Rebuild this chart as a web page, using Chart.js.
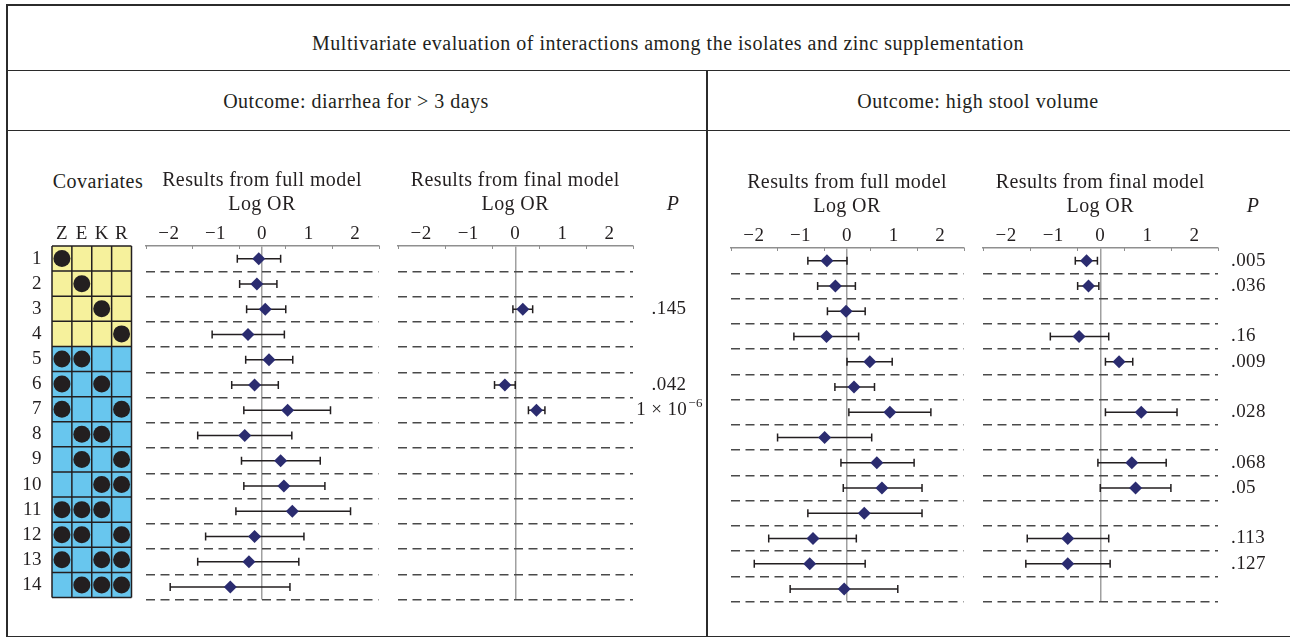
<!DOCTYPE html>
<html>
<head>
<meta charset="utf-8">
<script src="https://cdn.jsdelivr.net/npm/chart.js@4.4.1/dist/chart.umd.min.js"></script>
<style>
  html, body { margin: 0; padding: 0; background: #fff; }
  body { width: 1290px; height: 638px; position: relative; overflow: hidden;
         font-family: "Liberation Serif", serif; color: #231f20; }
  .rule { position: absolute; background: #2b2b2b; }
  .label { position: absolute; transform: translate(-50%, -50%); white-space: nowrap;
           font-size: 20px; letter-spacing: 0.5px; }
  canvas { position: absolute; }
</style>
</head>
<body>
<!-- table frame -->
<div class="rule" style="left:6px;top:4px;width:1284px;height:1.5px"></div>
<div class="rule" style="left:6px;top:4px;width:1.5px;height:633px"></div>
<div class="rule" style="left:6px;top:69.5px;width:1284px;height:1.5px"></div>
<div class="rule" style="left:6px;top:129.5px;width:1284px;height:1.5px"></div>
<div class="rule" style="left:6px;top:635.5px;width:1284px;height:1.5px"></div>
<div class="rule" style="left:706px;top:70px;width:1.5px;height:567px"></div>

<div class="label" style="left:668px;top:43px">Multivariate evaluation of interactions among the isolates and zinc supplementation</div>
<div class="label" style="left:356px;top:101px">Outcome: diarrhea for &gt; 3 days</div>
<div class="label" style="left:978px;top:101px">Outcome: high stool volume</div>
<div class="label" style="left:98px;top:181px">Covariates</div>

<canvas id="covariates" width="140" height="456" style="left:0px;top:150px"></canvas>
<canvas id="diarFull" width="246" height="456" style="left:139px;top:150px"></canvas>
<canvas id="diarFinal" width="322" height="456" style="left:391px;top:150px"></canvas>
<canvas id="stoolFull" width="246" height="456" style="left:724px;top:152px"></canvas>
<canvas id="stoolFinal" width="314" height="456" style="left:976px;top:152px"></canvas>

<script>
const rowLabels = ['1', '2', '3', '4', '5', '6', '7', '8', '9', '10', '11', '12', '13', '14'];
const covariates = ['Z', 'E', 'K', 'R'];
// which isolates / zinc enter each interaction row
const design = [
  [1, 0, 0, 0], [0, 1, 0, 0], [0, 0, 1, 0], [0, 0, 0, 1],
  [1, 1, 0, 0], [1, 0, 1, 0], [1, 0, 0, 1], [0, 1, 1, 0], [0, 1, 0, 1], [0, 0, 1, 1],
  [1, 1, 1, 0], [1, 1, 0, 1], [1, 0, 1, 1], [0, 1, 1, 1]
];
const singleRows = 4;
const xTicks = [-2, -1, 0, 1, 2];

// diarrhea for > 3 days
const diarFullEst = [-0.07, -0.11, 0.07, -0.30, 0.15, -0.16, 0.55, -0.37, 0.40, 0.47, 0.65, -0.16, -0.28, -0.68];
const diarFullLo = [-0.53, -0.48, -0.33, -1.07, -0.35, -0.65, -0.39, -1.38, -0.44, -0.39, -0.56, -1.21, -1.38, -1.97];
const diarFullHi = [0.40, 0.32, 0.51, 0.48, 0.66, 0.35, 1.47, 0.64, 1.25, 1.35, 1.90, 0.90, 0.79, 0.60];
const diarFinalEst = [null, null, 0.16, null, null, -0.22, 0.45, null, null, null, null, null, null, null];
const diarFinalLo = [null, null, -0.05, null, null, -0.44, 0.28, null, null, null, null, null, null, null];
const diarFinalHi = [null, null, 0.37, null, null, 0.00, 0.63, null, null, null, null, null, null, null];
const diarP = [null, null, '.145', null, null, '.042', '1 \u00d7 10^\u22126', null, null, null, null, null, null, null];

// high stool volume
const stoolFullEst = [-0.43, -0.25, -0.02, -0.44, 0.49, 0.15, 0.92, -0.48, 0.64, 0.75, 0.37, -0.73, -0.80, -0.06];
const stoolFullLo = [-0.84, -0.63, -0.42, -1.14, 0.00, -0.26, 0.04, -1.49, -0.13, -0.08, -0.84, -1.68, -1.99, -1.22];
const stoolFullHi = [0.00, 0.18, 0.39, 0.25, 0.97, 0.59, 1.80, 0.53, 1.44, 1.61, 1.61, 0.20, 0.39, 1.09];
const stoolFinalEst = [-0.29, -0.25, null, -0.45, 0.40, null, 0.87, null, 0.67, 0.75, null, -0.69, -0.69, null];
const stoolFinalLo = [-0.53, -0.48, null, -1.06, 0.11, null, 0.11, null, -0.05, 0.00, null, -1.55, -1.58, null];
const stoolFinalHi = [-0.06, -0.03, null, 0.18, 0.69, null, 1.63, null, 1.40, 1.50, null, 0.18, 0.21, null];
const stoolP = ['.005', '.036', null, '.16', '.009', null, '.028', null, '.068', '.05', null, '.113', '.127', null];

const INK = '#231f20';
const NAVY = '#2b2c70';
const SERIF = '"Liberation Serif", serif';
const AXIS_H = 96;
const TITLE_PAD = 19;
const tickFont = { family: SERIF, size: 19, lineHeight: 1.2 };

const fmt = v => (v < 0 ? '\u2212' + Math.abs(v) : String(v));

// Liberation Serif runs a bit narrower than the original face
const spacing = {
  id: 'spacing',
  beforeDraw(chart) { chart.ctx.letterSpacing = '0.4px'; }
};

const errorBars = {
  id: 'errorBars',
  beforeDatasetsDraw(chart) {
    const { ctx, scales: { x, y } } = chart;
    ctx.save();
    ctx.strokeStyle = INK;
    ctx.lineWidth = 1.5;
    chart.data.datasets[0].data.forEach(p => {
      const yy = y.getPixelForValue(p.y);
      const x1 = x.getPixelForValue(p.lo);
      const x2 = x.getPixelForValue(p.hi);
      ctx.beginPath();
      ctx.moveTo(x1, yy); ctx.lineTo(x2, yy);
      ctx.moveTo(x1, yy - 4); ctx.lineTo(x1, yy + 4);
      ctx.moveTo(x2, yy - 4); ctx.lineTo(x2, yy + 4);
      ctx.stroke();
    });
    ctx.restore();
  }
};

// small ticks under the axis line at the half units
const minorTicks = {
  id: 'minorTicks',
  afterDraw(chart) {
    const { ctx, chartArea, scales: { x } } = chart;
    ctx.save();
    ctx.strokeStyle = '#8f8f8f';
    ctx.lineWidth = 1;
    ctx.beginPath();
    for (let v = -2.5; v <= 2.5; v += 1) {
      const px = Math.round(x.getPixelForValue(v)) + 0.5;
      ctx.moveTo(px, chartArea.top); ctx.lineTo(px, chartArea.top + 3);
    }
    ctx.stroke();
    ctx.restore();
  }
};

const pColumn = {
  id: 'pColumn',
  afterDraw(chart, args, opts) {
    if (!opts.values) return;
    const { ctx, chartArea, scales: { x, y } } = chart;
    ctx.save();
    ctx.fillStyle = INK;
    ctx.textBaseline = 'middle';
    ctx.textAlign = 'center';
    ctx.font = 'italic 20px ' + SERIF;
    ctx.fillText('P', chartArea.right + opts.headerOffset, x.top + TITLE_PAD + 36);
    ctx.textAlign = 'left';
    opts.values.forEach((txt, i) => {
      if (!txt) return;
      const yy = y.getPixelForValue(i + 0.5);
      const [base, exp] = txt.split('^');
      ctx.font = '19px ' + SERIF;
      const wb = ctx.measureText(base).width;
      ctx.font = '13px ' + SERIF;
      const we = exp ? ctx.measureText(exp).width : 0;
      let sx = chartArea.right + opts.offset;
      if (opts.align === 'center') sx -= (wb + we) / 2;
      ctx.font = '19px ' + SERIF;
      ctx.fillText(base, sx, yy);
      if (exp) {
        ctx.font = '13px ' + SERIF;
        ctx.fillText(exp, sx + wb + 1, yy - 7);
      }
    });
    ctx.restore();
  }
};

const cellGrid = {
  id: 'cellGrid',
  beforeDatasetsDraw(chart) {
    const { ctx, scales: { x, y } } = chart;
    const x0 = x.getPixelForValue(0);
    const x1 = x.getPixelForValue(covariates.length);
    ctx.save();
    design.forEach((row, i) => {
      const top = y.getPixelForValue(i);
      const bottom = y.getPixelForValue(i + 1);
      ctx.fillStyle = i < singleRows ? '#f6f19c' : '#68c6ee';
      ctx.fillRect(x0, top, x1 - x0, bottom - top);
    });
    ctx.strokeStyle = INK;
    ctx.lineWidth = 1.5;
    ctx.beginPath();
    for (let i = 0; i <= design.length; i++) {
      const yy = y.getPixelForValue(i);
      ctx.moveTo(x0, yy); ctx.lineTo(x1, yy);
    }
    for (let j = 0; j <= covariates.length; j++) {
      const xx = x.getPixelForValue(j);
      ctx.moveTo(xx, y.getPixelForValue(0)); ctx.lineTo(xx, y.getPixelForValue(design.length));
    }
    ctx.stroke();
    ctx.restore();
  }
};

function initForest(id, title, est, lo, hi, padRight, pOpts) {
  const el = document.getElementById(id);
  if (!el) return;
  const points = [];
  est.forEach((v, i) => {
    if (v !== null) points.push({ x: v, y: i + 0.5, lo: lo[i], hi: hi[i] });
  });

  new Chart(el, {
    type: 'scatter',
    data: {
      datasets: [{
        data: points,
        pointStyle: 'rectRot',
        pointRadius: 6.5,
        pointHoverRadius: 6.5,
        backgroundColor: NAVY,
        borderWidth: 0,
        clip: false
      }]
    },
    options: {
      responsive: false,
      animation: false,
      events: [],
      layout: { padding: { left: 4, right: padRight, top: 0, bottom: 4 } },
      plugins: {
        legend: { display: false },
        tooltip: { enabled: false },
        pColumn: pOpts || {}
      },
      scales: {
        x: {
          type: 'linear',
          position: 'top',
          min: -2.5,
          max: 2.5,
          ticks: {
            stepSize: 0.5,
            autoSkip: false,
            maxRotation: 0,
            padding: 1,
            color: INK,
            font: tickFont,
            callback: v => (xTicks.includes(v) ? fmt(v) : '')
          },
          grid: {
            drawTicks: false,
            lineWidth: 1.5,
            color: c => (c.tick && c.tick.value === 0 ? '#a0a0a0' : 'rgba(0,0,0,0)')
          },
          border: { display: true, color: '#8f8f8f', width: 1.5 },
          title: {
            display: true,
            text: [title, 'Log OR'],
            color: INK,
            font: { family: SERIF, size: 20, lineHeight: '24px' },
            padding: { top: TITLE_PAD, bottom: 0 }
          },
          afterFit: s => { s.height = AXIS_H; s.paddingLeft = 0; s.paddingRight = 0; }
        },
        y: {
          type: 'linear',
          min: 0,
          max: rowLabels.length,
          reverse: true,
          ticks: { display: false, stepSize: 1 },
          grid: {
            drawTicks: false,
            lineWidth: 1.5,
            color: c => (c.tick && c.tick.value > 0 ? '#4a4a4a' : 'rgba(0,0,0,0)')
          },
          border: { display: false, dash: [9, 5.5] },
          afterFit: s => { s.width = 0; s.paddingTop = 0; s.paddingBottom = 0; }
        }
      }
    },
    plugins: [spacing, errorBars, minorTicks, pColumn]
  });
}

function initCovariates() {
  const el = document.getElementById('covariates');
  if (!el) return;
  const dots = [];
  design.forEach((row, i) => row.forEach((on, j) => {
    if (on) dots.push({ x: j + 0.5, y: i + 0.5 });
  }));

  new Chart(el, {
    type: 'scatter',
    data: {
      datasets: [{ data: dots, pointRadius: 8.5, pointHoverRadius: 8.5, backgroundColor: INK, borderWidth: 0, clip: false }]
    },
    options: {
      responsive: false,
      animation: false,
      events: [],
      layout: { padding: { left: 0, right: 5.5, top: 0, bottom: 4 } },
      plugins: { legend: { display: false }, tooltip: { enabled: false } },
      scales: {
        x: {
          type: 'linear',
          position: 'top',
          min: 0,
          max: covariates.length,
          afterBuildTicks: s => { s.ticks = covariates.map((_, j) => ({ value: j + 0.5 })); },
          ticks: {
            autoSkip: false,
            maxRotation: 0,
            padding: 1,
            color: INK,
            font: tickFont,
            callback: (v, i) => covariates[i]
          },
          grid: { display: false, drawTicks: false },
          border: { display: false },
          afterFit: s => { s.height = AXIS_H; s.paddingLeft = 0; s.paddingRight = 0; }
        },
        y: {
          type: 'linear',
          min: 0,
          max: rowLabels.length,
          reverse: true,
          afterBuildTicks: s => { s.ticks = rowLabels.map((_, i) => ({ value: i + 0.5 })); },
          ticks: {
            autoSkip: false,
            padding: 10,
            color: INK,
            font: tickFont,
            callback: (v, i) => rowLabels[i]
          },
          grid: { display: false, drawTicks: false },
          border: { display: false },
          afterFit: s => { s.width = 52; s.paddingTop = 0; s.paddingBottom = 0; }
        }
      }
    },
    plugins: [spacing, cellGrid]
  });
}

initCovariates();
initForest('diarFull', 'Results from full model', diarFullEst, diarFullLo, diarFullHi, 4);
initForest('diarFinal', 'Results from final model', diarFinalEst, diarFinalLo, diarFinalHi, 80,
  { values: diarP, align: 'center', offset: 36, headerOffset: 40 });
initForest('stoolFull', 'Results from full model', stoolFullEst, stoolFullLo, stoolFullHi, 4);
initForest('stoolFinal', 'Results from final model', stoolFinalEst, stoolFinalLo, stoolFinalHi, 72,
  { values: stoolP, align: 'left', offset: 13, headerOffset: 35 });
</script>
</body>
</html>
